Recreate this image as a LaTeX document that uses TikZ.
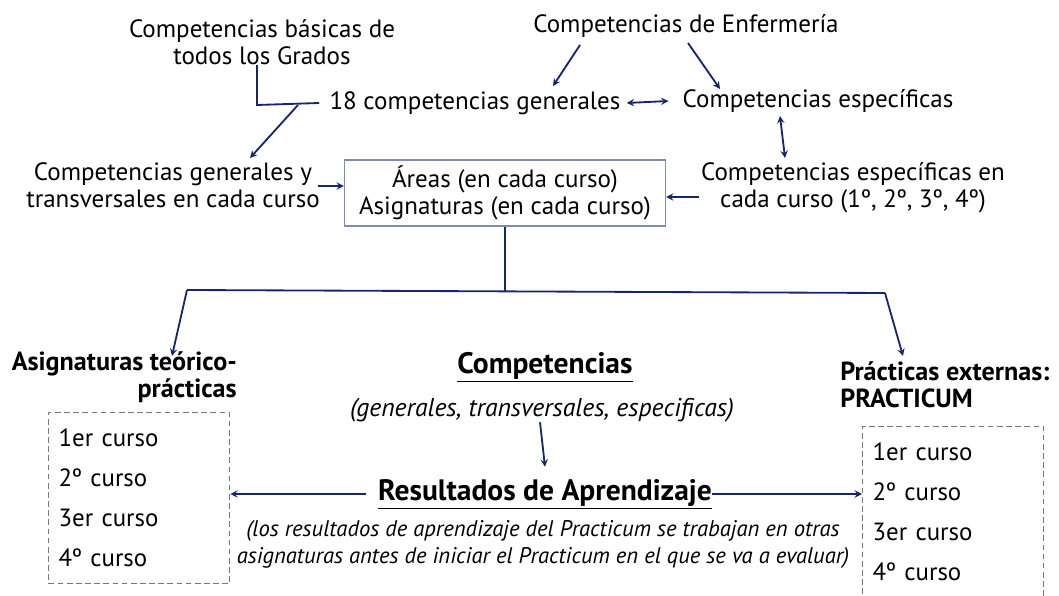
\documentclass[tikz,border=0pt]{standalone}
\usepackage{fontspec}
\setmainfont{PT Sans}
\usetikzlibrary{positioning}
\definecolor{navy}{RGB}{22,38,110}
\definecolor{boxblue}{RGB}{125,140,175}
\definecolor{dashgray}{RGB}{120,120,120}

\begin{document}
\begin{tikzpicture}[x=0.025cm,y=-0.025cm,
  every node/.style={inner sep=0pt},
  txt/.style={font=\fontsize{17.8}{19.3}\selectfont,align=center},
  big/.style={font=\fontsize{21}{24}\selectfont\bfseries},
  note/.style={font=\fontsize{16.1}{19.3}\selectfont\itshape,align=center},
  conn/.style={draw=navy,line width=1.3pt,->,>=stealth},
  link/.style={draw=navy,line width=1.3pt},
  listbox/.style={draw=dashgray,line width=0.9pt,dash pattern=on 4pt off 2.5pt,
    text width=161*0.025cm,inner xsep=10*0.025cm,align=left,anchor=north west,
    font=\fontsize{17.7}{28.5}\selectfont}]
\useasboundingbox (0,0) rectangle (1059,596);

% upper part
\node[txt] (basicas) at (262,42) {Competencias básicas de\\todos los Grados};
\node[txt] (enf) at (686,26) {Competencias de Enfermería};
\node[txt] (gen18) at (475,103) {18 competencias generales};
\node[txt] (espec) at (818,101) {Competencias específicas};
\node[txt] (transv) at (173,185) {Competencias generales y\\transversales en cada curso};
\node[txt,draw=boxblue,line width=0.8pt,minimum width=321*0.025cm,minimum height=66*0.025cm] (areas) at (505,193) {Áreas (en cada curso)\\Asignaturas (en cada curso)};
\node[txt] (especc) at (853,188) {Competencias específicas en\\cada curso (1º, 2º, 3º, 4º)};

\coordinate (j1) at (257,105);
\coordinate (j2) at (298,105);
\coordinate (t1) at (250,158);
\draw[link] (basicas.south -| j1) -- (j1) -- ([xshift=-10*0.025cm]gen18.west);
\draw[conn] (j2) -- (t1);
\draw[conn] (580,45) -- (553,86);
\draw[conn] (688,43) -- (720,89);
\draw[conn,<->] ([xshift=6*0.025cm]gen18.east) -- ([xshift=-14*0.025cm]espec.west);
\draw[conn,<->] (780,116) -- (785,158);
\draw[conn] ([xshift=-2*0.025cm]especc.west |- 0,197) -- (areas.east |- 0,197);
\draw[conn] (318,186) -- (areas.west |- 0,186);

% split to the two kinds of subjects
\coordinate (s0) at (areas.south |- 0,291);
\coordinate (sl) at (187,290);
\coordinate (sr) at (885,293);
\draw[link] (areas.south) -- (s0);
\draw[link] (sl) -- (sr);
\draw[conn] (sl) -- (172,356);
\draw[conn] (sr) -- (903,356);

% lower part
\node[align=right,anchor=east,font=\fontsize{18.6}{19.3}\selectfont\bfseries] (teorico) at (237,377) {Asignaturas teórico-\\prácticas};
\node[align=left,anchor=west,font=\fontsize{18.6}{19.3}\selectfont\bfseries] (practicas) at (840,385) {Prácticas externas:\\PRACTICUM};
\node[big] (comp) at (545,367) {\underline{Competencias}};
\node[note,font=\fontsize{18.3}{19}\selectfont\itshape] (tipos) at (542,410) {(generales, transversales, especificas)};
\node[big] (result) at (545,494) {\underline{Resultados de Aprendizaje}};
\node[note] (nota) at (543,544) {(los resultados de aprendizaje del Practicum se trabajan en otras\\asignaturas antes de iniciar el Practicum en el que se va a evaluar)};

\node[listbox,minimum height=171*0.025cm] (listL) at (48,412) {1er curso\\2º curso\\3er curso\\4º curso};
\node[listbox,minimum height=171*0.025cm] (listR) at (862,426) {1er curso\\2º curso\\3er curso\\4º curso};

\draw[conn] ([xshift=-2*0.025cm]tipos.south) -- ([yshift=0.3cm]result.north);
\draw[conn] ([xshift=-12*0.025cm]result.west) -- (listL.east |- result.west);
\draw[conn] (result.east) -- (listR.west |- result.east);
\end{tikzpicture}
\end{document}
